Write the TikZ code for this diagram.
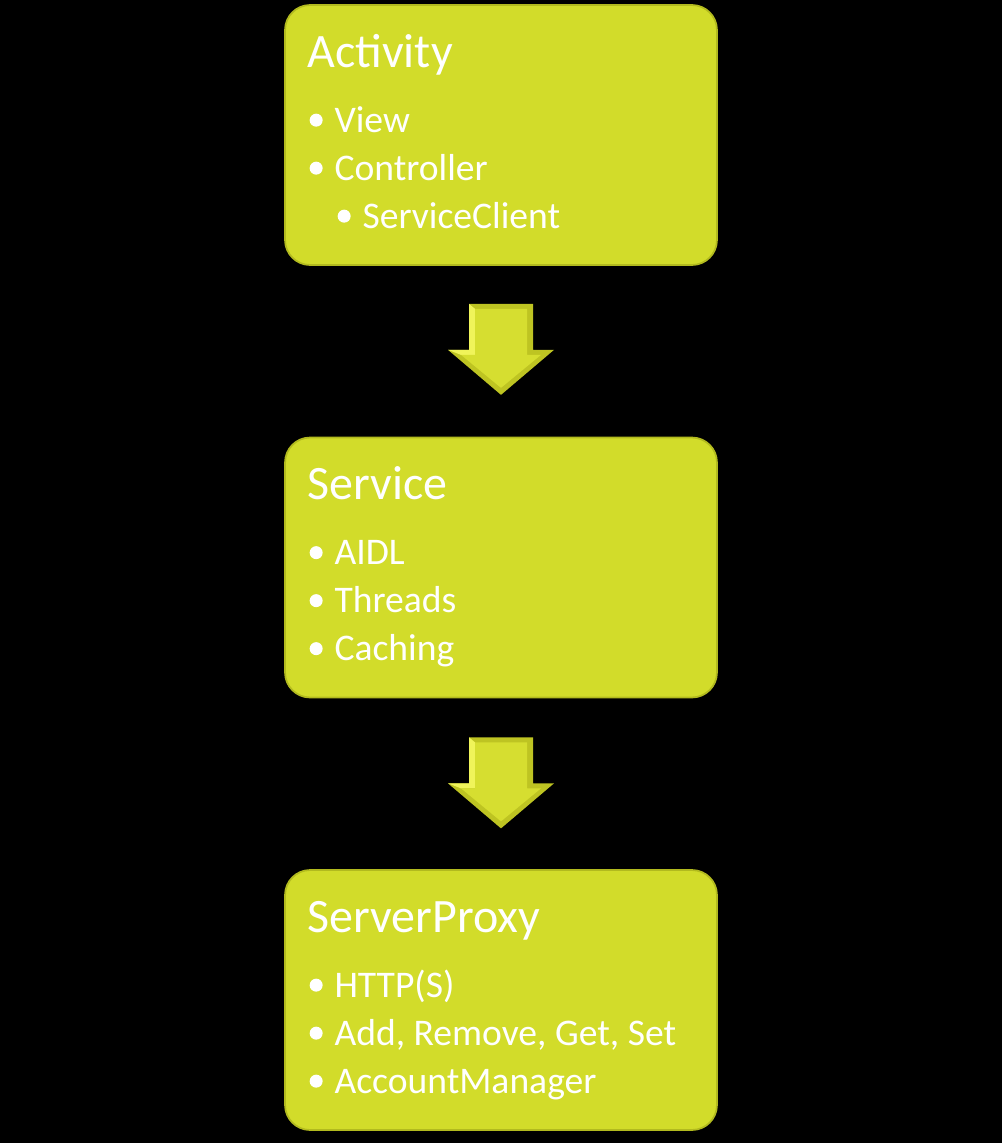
\documentclass[tikz,border=0pt]{standalone}
\usepackage{fontspec}
\setmainfont{Carlito}
\usetikzlibrary{calc, positioning}
\definecolor{boxgreen}{RGB}{210,220,42}
\definecolor{boxedge}{RGB}{178,186,30}
\definecolor{arrowdark}{RGB}{190,196,34}
\definecolor{arrowface}{RGB}{214,222,48}
\definecolor{arrowlight}{RGB}{240,244,90}

\tikzset{
    box/.style = {fill = boxgreen, draw = boxedge, line width = 1pt, rounded corners = 0.5cm,
                  minimum width = 8.64cm, minimum height = 5.2cm, inner sep = 0pt},
    title/.style = {anchor = base west, inner sep = 0pt, text = white, font = \fontsize{27.3}{30}\selectfont},
    item/.style = {anchor = base west, inner sep = 0pt, text = white, font = \fontsize{21.4}{26}\selectfont},
    blockarrow/.pic = {
        \fill[arrowdark] (-32,0) -- (32,0) -- (32,46) -- (53,46) -- (0,91) -- (-53,46) -- (-32,46) -- cycle;
        \fill[arrowlight] (-32,0) -- (-26,5) -- (-26,51) -- (-40,51) -- (-53,46) -- (-32,46) -- cycle;
        \fill[arrowface] (-26,5) -- (26,5) -- (26,51) -- (40,51) -- (0,84) -- (-40,51) -- (-26,51) -- cycle;
    }
}

\begin{document}
\begin{tikzpicture}[x = 0.02cm, y = -0.02cm]
    \fill[black] (0,0) rectangle (1002,1143);
    \useasboundingbox (0,0) rectangle (1002,1143);

    \node[box] (act) at (501,135) {};
    \node[box] (svc) at (501,567.5) {};
    \node[box] (prx) at (501,1000) {};

    % titles
    \node[title] (act-t) at ($(act.north west)+(23,63)$) {Activity};
    \node[title] (svc-t) at ($(svc.north west)+(23,63)$) {Service};
    \node[title] (prx-t) at ($(prx.north west)+(23,63)$) {ServerProxy};

    % bullets
    \foreach \txt [count = \i] in {View, Controller} {
        \node[item] (act-\i) at ($(act.north west)+(50,80+48*\i)$) {\txt};
        \fill[white] ($(act-\i.base west)+(-18,-12)$) circle (6.5);
    }
    \node[item] (act-3) at ($(act.north west)+(78,224)$) {ServiceClient};
    \fill[white] ($(act-3.base west)+(-18,-12)$) circle (6.5);

    \foreach \txt [count = \i] in {AIDL, Threads, Caching} {
        \node[item] (svc-\i) at ($(svc.north west)+(50,80+48*\i)$) {\txt};
        \fill[white] ($(svc-\i.base west)+(-18,-12)$) circle (6.5);
    }
    \foreach \txt [count = \i] in {HTTP(S), {Add, Remove, Get, Set}, AccountManager} {
        \node[item] (prx-\i) at ($(prx.north west)+(50,80+48*\i)$) {\txt};
        \fill[white] ($(prx-\i.base west)+(-18,-12)$) circle (6.5);
    }

    % arrows
    \pic at ($(act.south)+(0,38)$) {blockarrow};
    \pic at ($(svc.south)+(0,39)$) {blockarrow};
\end{tikzpicture}
\end{document}
